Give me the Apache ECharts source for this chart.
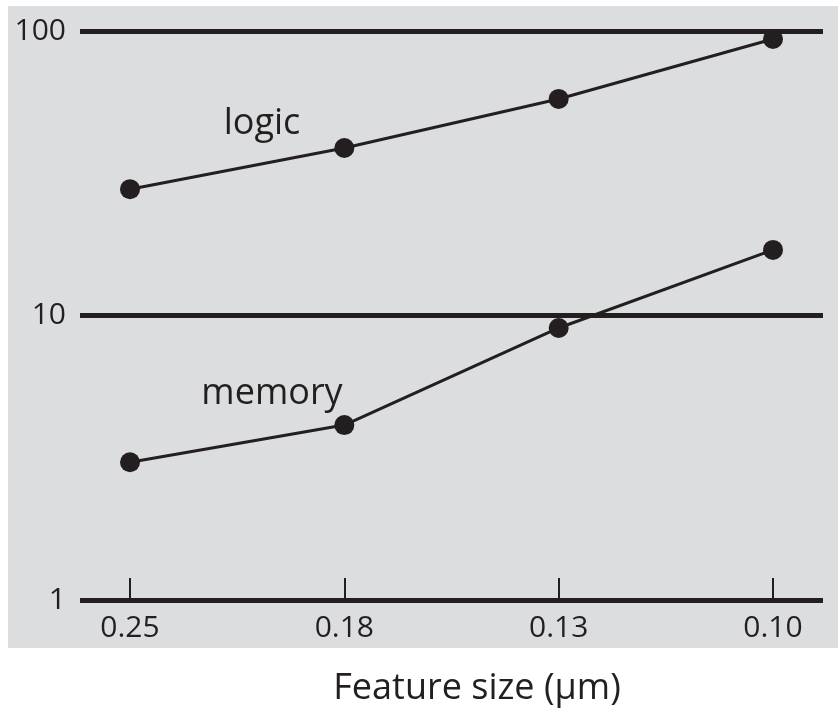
<!DOCTYPE html>
<html>
<head>
<meta charset="utf-8">
<script src="https://cdn.jsdelivr.net/npm/echarts@6/dist/echarts.min.js"></script>
<style>
  html, body { margin: 0; padding: 0; background: #fff; }
  #chart { width: 838px; height: 710px; }
</style>
</head>
<body>
<div id="chart"></div>
<script>
// data
const featureSizes = ['0.25', '0.18', '0.13', '0.10']
const logicValues = [27.8, 38.8, 57.7, 93.7]
const memoryValues = [3.05, 4.12, 9.04, 17.0]
const seriesNames = ['logic', 'memory']

const ink = '#231f20'
const font = 'Open Sans'

const myChart = echarts.init(document.getElementById('chart'), null, { renderer: 'canvas' })

const lineSeries = (name, values) => ({
  name: name,
  type: 'line',
  xAxisIndex: 1,
  yAxisIndex: 1,
  symbol: 'circle',
  symbolSize: 20,
  lineStyle: { color: ink, width: 3 },
  itemStyle: { color: ink },
  emphasis: { disabled: true },
  z: 5,
  data: values
})

const option = {
  backgroundColor: '#fff',
  animation: false,
  title: {
    text: 'Feature size (µm)',
    left: 472,
    top: 666,
    textAlign: 'center',
    textStyle: { fontFamily: font, fontSize: 36, fontWeight: 'normal', color: ink }
  },
  graphic: [
    {
      type: 'rect',
      z: -10,
      shape: { x: 8, y: 6, width: 830, height: 642 },
      style: { fill: '#dcdddf' }
    },
    {
      type: 'text',
      x: 262, y: 124,
      style: { text: seriesNames[0], font: '36px "' + font + '"', fill: ink, align: 'center', verticalAlign: 'middle' }
    },
    {
      type: 'text',
      x: 272, y: 394,
      style: { text: seriesNames[1], font: '36px "' + font + '"', fill: ink, align: 'center', verticalAlign: 'middle' }
    }
  ],
  grid: [
    // full-width grid for the horizontal decade lines
    { left: 80, right: 15, top: 31, bottom: 110 },
    // inner grid where the points sit
    { left: 130, right: 65, top: 31, bottom: 110 }
  ],
  xAxis: [
    {
      gridIndex: 0,
      type: 'category',
      data: featureSizes,
      show: false
    },
    {
      gridIndex: 1,
      type: 'category',
      boundaryGap: false,
      data: featureSizes,
      axisLine: { show: false },
      axisTick: { show: true, inside: true, length: 22, lineStyle: { color: ink, width: 2 } },
      axisLabel: { margin: 13, fontFamily: font, fontSize: 30, color: ink },
      splitLine: { show: false }
    }
  ],
  yAxis: [
    {
      gridIndex: 0,
      type: 'log',
      logBase: 10,
      min: 1,
      max: 100,
      axisLine: { show: false },
      axisTick: { show: false },
      axisLabel: { margin: 14, fontFamily: font, fontSize: 30, color: ink },
      splitLine: { show: true, lineStyle: { color: ink, width: 5 } },
      z: 3
    },
    {
      gridIndex: 1,
      type: 'log',
      logBase: 10,
      min: 1,
      max: 100,
      show: false
    }
  ],
  series: [
    lineSeries(seriesNames[0], logicValues),
    lineSeries(seriesNames[1], memoryValues)
  ]
}

myChart.setOption(option)
</script>
</body>
</html>
